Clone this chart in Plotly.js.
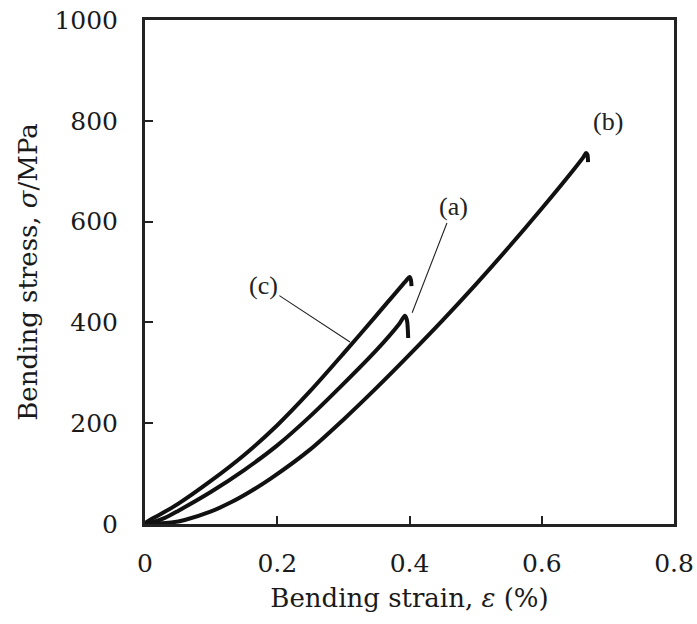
<!DOCTYPE html>
<html>
<head>
<meta charset="utf-8">
<script src="https://cdn.plot.ly/plotly-3.0.1.min.js"></script>
<style>
  html, body { margin: 0; padding: 0; background: #fff; }
  #chart { width: 697px; height: 624px; }
</style>
</head>
<body>
<div id="chart"></div>
<script>
// Bending stress-strain curves for three specimens
const strainA = [0, 0.015, 0.03, 0.05, 0.10, 0.15, 0.20, 0.25, 0.30, 0.35, 0.385, 0.393, 0.396, 0.398];
const stressA = [2, 5, 12, 26, 64, 107, 156, 214, 278, 345, 398, 413, 405, 369];

const strainB = [0, 0.02, 0.04, 0.06, 0.10, 0.13, 0.16, 0.19, 0.25, 0.30, 0.35, 0.40, 0.45, 0.50, 0.55, 0.60, 0.65, 0.663, 0.667, 0.669, 0.670];
const stressB = [1, 1, 3, 8, 25, 43, 65, 90, 148, 207, 270, 336, 404, 475, 549, 626, 706, 728, 736, 733, 718];

const strainC = [0, 0.01, 0.02, 0.05, 0.10, 0.15, 0.20, 0.25, 0.30, 0.35, 0.395, 0.400, 0.402, 0.403];
const stressC = [2, 10, 17, 40, 86, 137, 196, 264, 338, 414, 483, 490, 485, 472];

const xTicks = [0, 0.2, 0.4, 0.6, 0.8];
const yTicks = [0, 200, 400, 600, 800, 1000];

// Curve labels: text position and the point each leader line touches
const labelText = ['(a)', '(b)', '(c)'];
const labelX = [0.466, 0.700, 0.179];
const labelY = [629, 798, 474];
const leaderX = [0.404, null, 0.310];
const leaderY = [419, null, 361];

const curveLine = { color: '#111', width: 4, shape: 'spline', smoothing: 0.8 };

const traces = [
  { x: strainA, y: stressA, mode: 'lines', line: curveLine, name: '(a)', hoverinfo: 'skip' },
  { x: strainB, y: stressB, mode: 'lines', line: curveLine, name: '(b)', hoverinfo: 'skip' },
  { x: strainC, y: stressC, mode: 'lines', line: curveLine, name: '(c)', hoverinfo: 'skip' }
];

const annotations = labelText.map((t, i) => {
  const a = {
    text: t, xref: 'x', yref: 'y',
    font: { family: 'Liberation Serif, Times New Roman, serif', size: 26, color: '#222' }
  };
  if (leaderX[i] === null) {
    a.x = labelX[i]; a.y = labelY[i]; a.showarrow = false;
  } else {
    a.x = leaderX[i]; a.y = leaderY[i];
    a.ax = labelX[i]; a.ay = labelY[i];
    a.axref = 'x'; a.ayref = 'y';
    a.showarrow = true; a.arrowhead = 0; a.arrowwidth = 1.1;
    a.arrowcolor = '#222'; a.standoff = 0; a.startstandoff = 0;
  }
  return a;
});

const tickFont = { family: 'DejaVu Serif, serif', size: 25, color: '#1a1a1a' };
const titleFont = { family: 'DejaVu Serif, serif', size: 26, color: '#1a1a1a' };

const layout = {
  width: 697, height: 624,
  margin: { l: 145, r: 23, t: 20, b: 100 },
  paper_bgcolor: '#fff', plot_bgcolor: '#fff',
  showlegend: false,
  xaxis: {
    range: [0, 0.8], tickvals: xTicks, ticktext: xTicks.map(v => v === 0 ? '0' : v.toFixed(1)),
    ticks: 'inside', ticklen: 8, tickwidth: 2, tickcolor: '#222',
    showline: true, linecolor: '#222', linewidth: 3, mirror: true,
    showgrid: false, zeroline: false,
    tickfont: tickFont, ticklabelstandoff: 15,
    title: { text: 'Bending strain, <i>ε</i> (%)', font: titleFont, standoff: 12 }
  },
  yaxis: {
    range: [0, 1000], tickvals: yTicks, ticktext: yTicks.map(String),
    ticks: 'inside', ticklen: 8, tickwidth: 2, tickcolor: '#222',
    showline: true, linecolor: '#222', linewidth: 3, mirror: true,
    showgrid: false, zeroline: false,
    tickfont: tickFont, ticklabelstandoff: 19,
    title: { text: 'Bending stress, <i>σ</i>/MPa', font: titleFont, standoff: 10 }
  },
  annotations: annotations
};

Plotly.newPlot('chart', traces, layout, { staticPlot: true, displayModeBar: false });
</script>
</body>
</html>
